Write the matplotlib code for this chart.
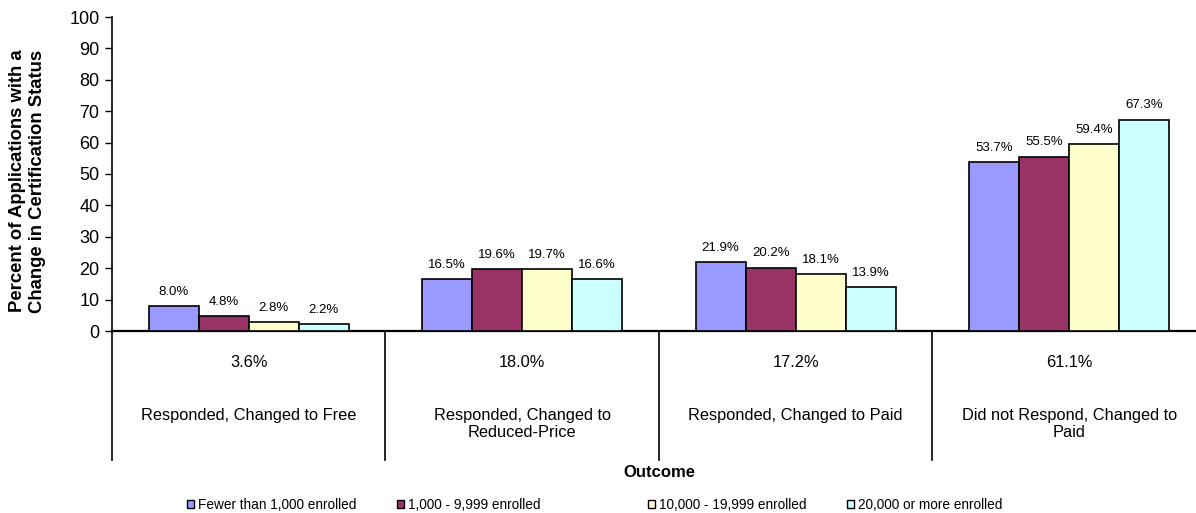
import matplotlib
matplotlib.use("Agg")
import matplotlib.pyplot as plt
from matplotlib.patches import Patch
import numpy as np

plt.rcParams['font.family'] = ['Liberation Sans', 'DejaVu Sans']

outcomes = ["Responded, Changed to Free",
            "Responded, Changed to\nReduced-Price",
            "Responded, Changed to Paid",
            "Did not Respond, Changed to\nPaid"]
overall = [3.6, 18.0, 17.2, 61.1]

series_names = ["Fewer than 1,000 enrolled", "1,000 - 9,999 enrolled",
                "10,000 - 19,999 enrolled", "20,000 or more enrolled"]
fewer_1000 = [8.0, 16.5, 21.9, 53.7]
from_1000 = [4.8, 19.6, 20.2, 55.5]
from_10000 = [2.8, 19.7, 18.1, 59.4]
over_20000 = [2.2, 16.6, 13.9, 67.3]
series = [fewer_1000, from_1000, from_10000, over_20000]
colors = ["#9999FF", "#993366", "#FFFFCC", "#CCFFFF"]

W, H = 1196, 513
fig = plt.figure(figsize=(W / 100, H / 100), dpi=100)
ax = fig.add_axes([112 / W, (H - 331) / H, (1206 - 112) / W, (331 - 17) / H])

x = np.arange(len(outcomes))
bw = 0.183
for i, (vals, col) in enumerate(zip(series, colors)):
    pos = x + (i - 1.5) * bw
    bars = ax.bar(pos, vals, bw, color=col, edgecolor="black", linewidth=1.2, zorder=3)
    for b, v in zip(bars, vals):
        ax.annotate(f"{v:.1f}%", (b.get_x() + b.get_width() / 2, v),
                    xytext=(0, 6), textcoords="offset points",
                    ha="center", va="bottom", fontsize=9.5)

ax.set_xlim(-0.5, 3.5)
ax.set_ylim(0, 100)
ax.set_yticks(range(0, 101, 10))
ax.tick_params(axis="y", labelsize=13, length=5, width=1, direction="out", pad=4)
ax.set_xticks([])
for s in ["top", "right"]:
    ax.spines[s].set_visible(False)
ax.spines["left"].set_linewidth(1.2)
ax.spines["bottom"].set_linewidth(1.6)

# category table under the axis
trans = ax.get_xaxis_transform()
for sep in [-0.5, 0.5, 1.5, 2.5]:
    ax.plot([sep, sep], [0, -0.411], transform=trans, color="black",
            linewidth=1.2, clip_on=False)
for xi, pct, name in zip(x, overall, outcomes):
    ax.text(xi, -0.099, f"{pct:.1f}%", transform=trans, ha="center", va="center",
            fontsize=11.8)
    ax.text(xi, -0.245, name, transform=trans, ha="center", va="top",
            fontsize=11.8, linespacing=1.2, multialignment="center")

ax.text(0.5, -0.45, "Outcome", transform=ax.transAxes, ha="center", va="center",
        fontsize=12, fontweight="bold")

fig.text(27.5 / W, 1 - 181 / H,
         "Percent of Applications with a\nChange in Certification Status",
         rotation=90, ha="center", va="center", fontsize=13.3, fontweight="bold",
         linespacing=1.25, multialignment="center")

# legend entries spaced out along the bottom
leg_x = [187, 397, 648, 847]
for lx, name, col in zip(leg_x, series_names, colors):
    h = Patch(facecolor=col, edgecolor="black", linewidth=1)
    leg = fig.legend(handles=[h], labels=[name], loc="center left",
                     bbox_to_anchor=(lx / W, 1 - 505 / H), frameon=False,
                     fontsize=9.8, handlelength=0.55, handleheight=0.55,
                     handletextpad=0.25, borderpad=0, borderaxespad=0)

fig.savefig("out.png", dpi=100)
